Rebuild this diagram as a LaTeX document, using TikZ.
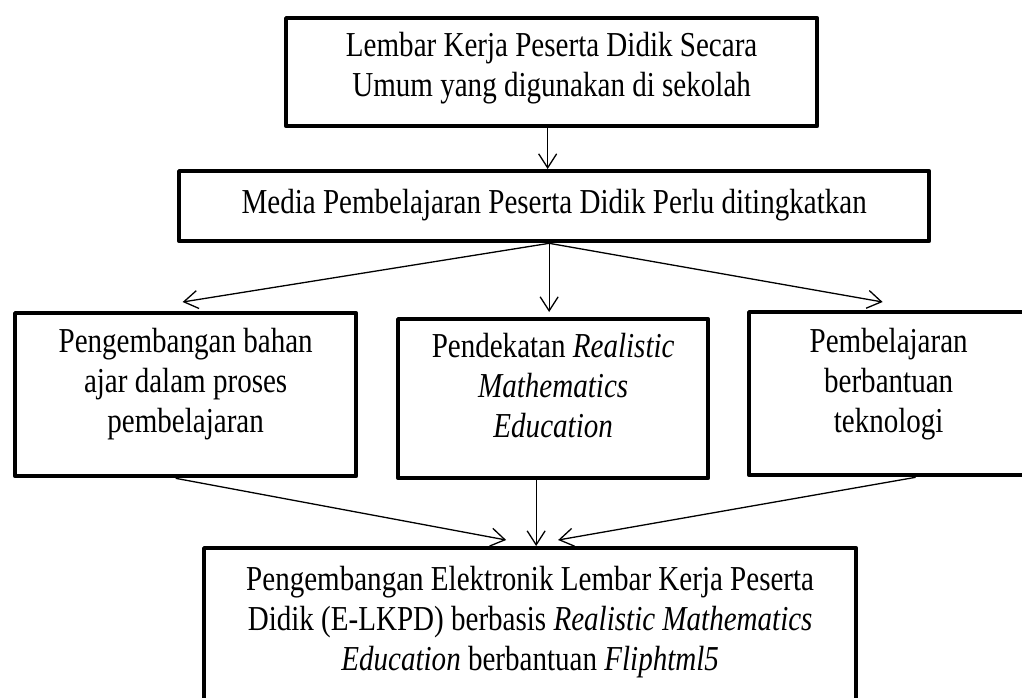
\documentclass[tikz,border=0pt]{standalone}
\usepackage{fontspec}
\setmainfont{Liberation Serif}[FakeStretch=0.83]
\usetikzlibrary{arrows.meta}
\tikzset{
  kerangka/.style={font=\fontsize{35}{40}\selectfont,
    line width=1.3pt, >={Straight Barb[length=14pt,width=18pt]}},
  kotak/.style={draw,line width=4.3pt,line join=round,align=center,
    inner sep=0pt,anchor=north west},
  alur/.style={->,line width=1.3pt},
}

\begin{document}
\begin{tikzpicture}[kerangka,x=1pt,y=-1pt]
  % Page of 1022 x 697; the last box runs off the right and bottom edges.
  \path[use as bounding box] (0,0) rectangle (1022,697);
  \clip (0,0) rectangle (1022,697);

  % ---------------- top: starting point ----------------
  \node[kotak,minimum width=531pt,minimum height=108pt,text depth=16pt]
    (lkpd) at (284,16)
    {Lembar Kerja Peserta Didik Secara\\Umum yang digunakan di sekolah};
  \node[kotak,minimum width=750pt,minimum height=70pt,text depth=10pt]
    (media) at (177,169)
    {Media Pembelajaran Peserta Didik Perlu ditingkatkan};
  \draw[alur] ([xshift=-4pt]lkpd.south) -- ([xshift=-4pt]lkpd.south |- media.north);

  % ---------------- middle: three approaches ----------------
  \node[kotak,minimum width=341pt,minimum height=163pt,text depth=28pt]
    (bahan) at (13,311)
    {Pengembangan bahan\\ajar dalam proses\\pembelajaran};
  \node[kotak,minimum width=310pt,minimum height=159pt,text depth=26pt]
    (rme) at (396,317)
    {Pendekatan \textit{Realistic}\\\textit{Mathematics}\\\textit{Education}};
  \node[kotak,minimum width=279pt,minimum height=163pt,text depth=26pt]
    (teknologi) at (747,310)
    {Pembelajaran\\berbantuan\\teknologi};

  \coordinate (pecah) at ([xshift=-5pt]media.south);
  \draw[alur] (pecah) -- ([xshift=-3pt,yshift=9pt]bahan.north);
  \draw[alur,shorten >=5pt] (pecah) -- (pecah |- rme.north);
  \draw[alur] (pecah) -- ([xshift=-6pt,yshift=8pt]teknologi.north);

  % ---------------- bottom: product ----------------
  \node[kotak,minimum width=652pt,minimum height=180pt,text depth=39pt]
    (elkpd) at (202,546)
    {Pengembangan Elektronik Lembar Kerja Peserta\\
     Didik (E-LKPD) berbasis \textit{Realistic Mathematics}\\
     \textit{Education} berbantuan \textit{Fliphtml5}};

  \draw[alur] ([xshift=-10pt]bahan.south)
    -- ([xshift=-24pt,yshift=6pt]elkpd.north);
  \draw[alur] ([xshift=-17pt]rme.south) -- ([xshift=6pt]elkpd.north);
  \draw[alur] ([xshift=27pt]teknologi.south)
    -- ([xshift=28pt,yshift=6pt]elkpd.north);
\end{tikzpicture}
\end{document}
